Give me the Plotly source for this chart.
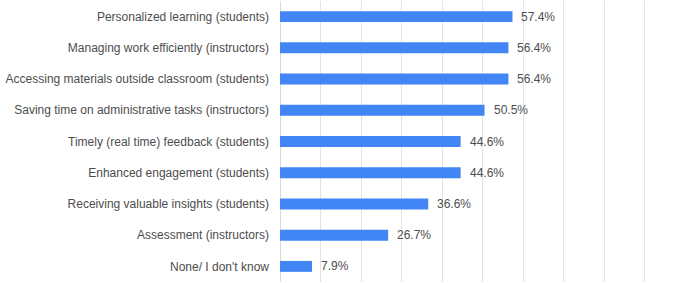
import plotly.graph_objects as go

categories = [
    "Personalized learning (students)",
    "Managing work efficiently (instructors)",
    "Accessing materials outside classroom (students)",
    "Saving time on administrative tasks (instructors)",
    "Timely (real time) feedback (students)",
    "Enhanced engagement (students)",
    "Receiving valuable insights (students)",
    "Assessment (instructors)",
    "None/ I don't know",
]
values = [57.4, 56.4, 56.4, 50.5, 44.6, 44.6, 36.6, 26.7, 7.9]
labels = [f"{v:.1f}%" for v in values]

fig = go.Figure()
fig.add_trace(go.Bar(
    x=values, y=categories, orientation="h",
    marker=dict(color="#4285F4", line=dict(width=0)),
    hoverinfo="skip",
))

for c, v, t in zip(categories, values, labels):
    fig.add_annotation(x=v, y=c, text=t, xanchor="left", yanchor="middle",
                       xshift=7, showarrow=False,
                       font=dict(family="Liberation Sans, Arial", size=12, color="#4d4d4d"))

fig.update_layout(
    width=685, height=283,
    margin=dict(l=280, r=0, t=1, b=1),
    plot_bgcolor="white", paper_bgcolor="white",
    bargap=0.65,
    showlegend=False,
    font=dict(family="Liberation Sans, Arial", size=12, color="#4d4d4d"),
)
fig.update_xaxes(range=[0, 100], dtick=10, showgrid=True, gridcolor="#e3e3e3",
                 gridwidth=1, showticklabels=False, zeroline=True,
                 zerolinecolor="#d9d9d9", zerolinewidth=1, fixedrange=True)
fig.update_yaxes(autorange="reversed", ticks="", ticklabelstandoff=10,
                 showgrid=False, fixedrange=True)

fig.write_html("out.html", config={"displayModeBar": False},
               post_script="document.body.style.margin='0';document.body.style.overflow='hidden';")
